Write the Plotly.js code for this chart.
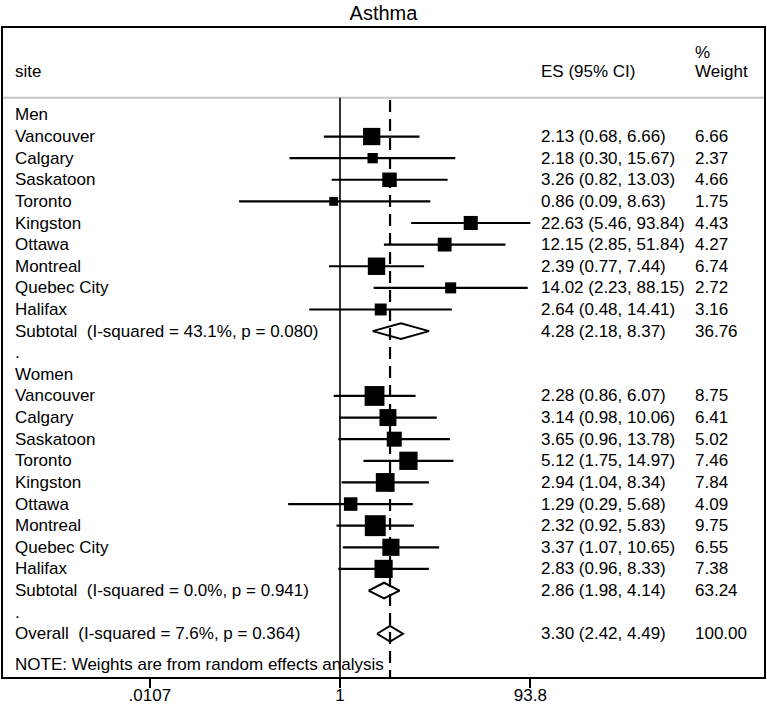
<!DOCTYPE html>
<html>
<head>
<meta charset="utf-8">
<script src="https://cdn.plot.ly/plotly-3.0.1.min.js"></script>
<style>html,body{margin:0;padding:0;background:#fff;}#chart{width:767px;height:706px;}</style>
</head>
<body>
<div id="chart"></div>
<script>
// ---- data ----
const groupNames = ['Men', 'Women'];
const sites = ['Vancouver', 'Calgary', 'Saskatoon', 'Toronto', 'Kingston', 'Ottawa', 'Montreal', 'Quebec City', 'Halifax'];
const menES = [2.13, 2.18, 3.26, 0.86, 22.63, 12.15, 2.39, 14.02, 2.64];
const menLo = [0.68, 0.30, 0.82, 0.09, 5.46, 2.85, 0.77, 2.23, 0.48];
const menHi = [6.66, 15.67, 13.03, 8.63, 93.84, 51.84, 7.44, 88.15, 14.41];
const menW = [6.66, 2.37, 4.66, 1.75, 4.43, 4.27, 6.74, 2.72, 3.16];
const womenES = [2.28, 3.14, 3.65, 5.12, 2.94, 1.29, 2.32, 3.37, 2.83];
const womenLo = [0.86, 0.98, 0.96, 1.75, 1.04, 0.29, 0.92, 1.07, 0.96];
const womenHi = [6.07, 10.06, 13.78, 14.97, 8.34, 5.68, 5.83, 10.65, 8.33];
const womenW = [8.75, 6.41, 5.02, 7.46, 7.84, 4.09, 9.75, 6.55, 7.38];
const subES = [4.28, 2.86];
const subLo = [2.18, 1.98];
const subHi = [8.37, 4.14];
const subW = [36.76, 63.24];
const subI2 = ['43.1', '0.0'];
const subP = ['0.080', '0.941'];
const overallES = 3.30, overallLo = 2.42, overallHi = 4.49, overallW = 100.00;
const overallI2 = '7.6', overallP = '0.364';
const tickVals = [0.0107, 1, 93.8];
const tickText = ['.0107', '1', '93.8'];

// ---- build rows ----
const groups = [
  {es: menES, lo: menLo, hi: menHi, w: menW},
  {es: womenES, lo: womenLo, hi: womenHi, w: womenW}
];
const NB = '\u00a0';
const fmt = v => v.toFixed(2);
const ciText = (e, l, h) => fmt(e) + ' (' + fmt(l) + ', ' + fmt(h) + ')';

const labelRows = [];
const studyX = [], studyY = [], studyS = [];
const lineX = [], lineY = [];
const diamonds = [];
let row = 0;
groups.forEach((g, gi) => {
  labelRows.push({y: row, label: groupNames[gi]});
  row++;
  sites.forEach((s, i) => {
    labelRows.push({y: row, label: s, es: ciText(g.es[i], g.lo[i], g.hi[i]), w: fmt(g.w[i])});
    studyX.push(g.es[i]); studyY.push(row); studyS.push(6.7 * Math.sqrt(g.w[i]));
    lineX.push(g.lo[i], g.hi[i], null); lineY.push(row, row, null);
    row++;
  });
  labelRows.push({y: row, label: 'Subtotal' + NB + ' (I-squared = ' + subI2[gi] + '%, p = ' + subP[gi] + ')',
    es: ciText(subES[gi], subLo[gi], subHi[gi]), w: fmt(subW[gi])});
  diamonds.push({y: row, es: subES[gi], lo: subLo[gi], hi: subHi[gi]});
  row++;
  labelRows.push({y: row, label: '.'});
  row++;
});
labelRows.push({y: row, label: 'Overall' + NB + ' (I-squared = ' + overallI2 + '%, p = ' + overallP + ')',
  es: ciText(overallES, overallLo, overallHi), w: fmt(overallW)});
diamonds.push({y: row, es: overallES, lo: overallLo, hi: overallHi});
const noteRow = row + 1.4;

const yTop = -4.02, yBot = 26.0, ySep = -0.79;
const dh = 0.36;

const traces = [];
diamonds.forEach(d => {
  traces.push({
    type: 'scatter', mode: 'lines', x: [d.lo, d.es, d.hi, d.es, d.lo], y: [d.y, d.y - dh, d.y, d.y + dh, d.y],
    fill: 'toself', fillcolor: 'rgba(255,255,255,0)', line: {color: '#000', width: 2}, hoverinfo: 'skip', showlegend: false
  });
});
traces.push({type: 'scatter', mode: 'lines', x: [1, 1], y: [ySep, yBot], line: {color: '#000', width: 1.6}, showlegend: false, hoverinfo: 'skip'});
traces.push({type: 'scatter', mode: 'lines', x: lineX, y: lineY, line: {color: '#000', width: 2.2}, showlegend: false, connectgaps: false, hoverinfo: 'skip'});
traces.push({type: 'scatter', mode: 'markers', x: studyX, y: studyY,
  marker: {symbol: 'square', size: studyS, color: '#000', opacity: 1, line: {width: 0}}, opacity: 1, showlegend: false, hoverinfo: 'skip'});
traces.push({type: 'scatter', mode: 'lines', x: [overallES, overallES], y: [ySep + 0.1, yBot],
  line: {color: '#000', width: 2.2, dash: '12px,7px'}, showlegend: false, hoverinfo: 'skip'});

const W = 767, H = 706, L = 3, R = 3, T = 28, B = 29;
const pw = W - L - R;
const px = p => (p - L) / pw;
const fam = 'Liberation Sans, Arial, Helvetica, sans-serif';
const font = {family: fam, size: 17, color: '#000'};
const xLab = 13, xES = 539, xW = 693;

const ann = [];
const addText = (x, y, text) => ann.push({xref: 'paper', yref: 'y', x: px(x), y: y, xanchor: 'left', yanchor: 'middle', text: text, showarrow: false, font: font});
labelRows.forEach(r => {
  addText(xLab, r.y, r.label);
  if (r.es) addText(xES, r.y, r.es);
  if (r.w) addText(xW, r.y, r.w);
});
addText(xLab, noteRow, 'NOTE: Weights are from random effects analysis');
addText(xLab, -1.99, 'site');
addText(xES, -1.99, 'ES (95% CI)');
addText(xW, -2.91, '%');
addText(xW, -1.99, 'Weight');

const x1px = 340, pxPerDec = 96.5;
const layout = {
  width: W, height: H,
  margin: {l: L, r: R, t: T, b: B, pad: 0},
  paper_bgcolor: '#fff', plot_bgcolor: '#fff',
  title: {text: 'Asthma', font: {family: fam, size: 20, color: '#000'}, x: 0.5, xanchor: 'center', y: 1 - 13 / H, yanchor: 'middle', yref: 'container'},
  xaxis: {
    type: 'log', range: [(L - x1px) / pxPerDec, (W - R - x1px) / pxPerDec],
    tickmode: 'array', tickvals: tickVals, ticktext: tickText,
    ticks: 'outside', ticklen: 9, tickwidth: 2, tickcolor: '#000', ticklabelstandoff: -7,
    showline: true, linecolor: '#000', linewidth: 2, mirror: true,
    showgrid: false, zeroline: false, automargin: false,
    tickfont: {family: fam, size: 17, color: '#000'}
  },
  yaxis: {
    range: [yBot, yTop], showticklabels: false, ticks: '', showgrid: false, zeroline: false,
    showline: true, linecolor: '#000', linewidth: 2, mirror: true, automargin: false
  },
  shapes: [{type: 'line', xref: 'paper', yref: 'y', x0: 0, x1: 1, y0: ySep, y1: ySep, line: {color: '#c4c4c4', width: 2}, layer: 'below'}],
  annotations: ann,
  showlegend: false
};
Plotly.newPlot('chart', traces, layout, {displayModeBar: false, staticPlot: true});
</script>
</body>
</html>
